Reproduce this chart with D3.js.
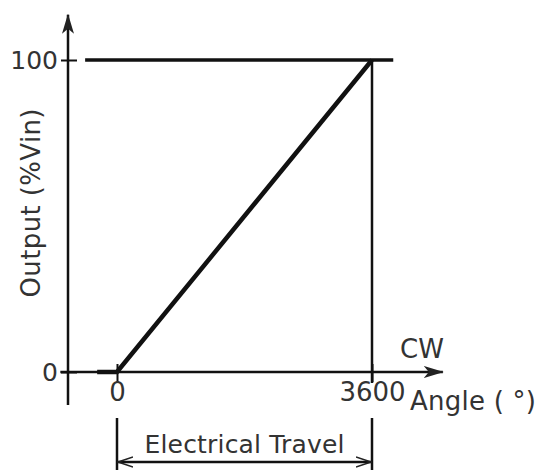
<!DOCTYPE html>
<html>
<head>
<meta charset="utf-8">
<script src="https://cdn.jsdelivr.net/npm/d3@7"></script>
<style>
  body { margin: 0; background: #fff; }
  text { font-family: "DejaVu Sans", Verdana, sans-serif; fill: #333; }
</style>
</head>
<body>
<script>
const w = 539;
const h = 470;

// output curve: angle (deg) vs output (%Vin)
const angle = [-280, 0, 3600];
const output = [0, 0, 100];
const xTicks = [0, 3600];
const yTicks = [0, 100];
const topLine = [-450, 3900];   // 100% reference line extent

let x = d3.scaleLinear().domain([0, 3600]).range([117, 372]);
let y = d3.scaleLinear().domain([0, 100]).range([372, 60]);

let svg = d3.select("body")
            .append("svg")
                .attr("width", w)
                .attr("height", h);

// arrow markers
let defs = svg.append("defs");
defs.append("marker")
    .attr("id", "head")
    .attr("viewBox", "0 0 20 12")
    .attr("refX", 19).attr("refY", 6)
    .attr("markerWidth", 20).attr("markerHeight", 12)
    .attr("markerUnits", "userSpaceOnUse")
    .attr("orient", "auto")
    .append("path")
        .attr("d", "M0,0 L20,6 L0,12 L5,6 Z")
        .attr("fill", "#222");
defs.append("marker")
    .attr("id", "open")
    .attr("viewBox", "0 0 16 12")
    .attr("refX", 15).attr("refY", 6)
    .attr("markerWidth", 16).attr("markerHeight", 12)
    .attr("markerUnits", "userSpaceOnUse")
    .attr("orient", "auto-start-reverse")
    .append("path")
        .attr("d", "M0,1 L15,6 L0,11")
        .attr("fill", "none")
        .attr("stroke", "#222")
        .attr("stroke-width", 1.5);

// axes lines
svg.append("line")
    .attr("x1", 68).attr("x2", 68)
    .attr("y1", y(-10.6)).attr("y2", y(114.5))
    .attr("stroke", "#111").attr("stroke-width", 2.5)
    .attr("marker-end", "url(#head)");
svg.append("line")
    .attr("x1", x(-800)).attr("x2", x(4600))
    .attr("y1", y(0)).attr("y2", y(0))
    .attr("stroke", "#111").attr("stroke-width", 2.5)
    .attr("marker-end", "url(#head)");

// y ticks via d3 axis
let yAxis = svg.append("g")
    .attr("transform", "translate(68,0)")
    .call(d3.axisLeft(y).tickValues(yTicks).tickSize(7).tickPadding(2));
yAxis.select(".domain").remove();
yAxis.selectAll(".tick line")
    .attr("x1", -7).attr("x2", 9)
    .attr("stroke", "#111").attr("stroke-width", 2);
yAxis.selectAll(".tick text")
    .attr("x", -10)
    .style("font-size", "25px")
    .style("font-family", "DejaVu Sans, Verdana, sans-serif")
    .attr("fill", "#333");

// x ticks
let xAxis = svg.append("g")
    .attr("transform", "translate(0," + y(0) + ")")
    .call(d3.axisBottom(x).tickValues(xTicks).tickFormat(d3.format("d")).tickSize(8).tickPadding(2));
xAxis.select(".domain").remove();
xAxis.selectAll(".tick line")
    .attr("y1", -8).attr("y2", 10)
    .attr("stroke", "#111").attr("stroke-width", 2);
xAxis.selectAll(".tick text")
    .attr("y", 11)
    .style("font-size", "26px")
    .style("font-family", "DejaVu Sans, Verdana, sans-serif")
    .attr("fill", "#333");

// 100% reference line
svg.append("line")
    .attr("x1", x(topLine[0])).attr("x2", x(topLine[1]))
    .attr("y1", y(100)).attr("y2", y(100))
    .attr("stroke", "#111").attr("stroke-width", 3.5);

// vertical line at full travel
svg.append("line")
    .attr("x1", x(3600)).attr("x2", x(3600))
    .attr("y1", y(100)).attr("y2", y(0) + 11)
    .attr("stroke", "#111").attr("stroke-width", 2.5);

// output curve
let line = d3.line()
    .x((d, i) => x(angle[i]))
    .y((d, i) => y(output[i]));
svg.append("path")
    .datum(angle)
    .attr("d", line)
    .attr("fill", "none")
    .attr("stroke", "#111")
    .attr("stroke-width", 4.5);

// labels
svg.append("text")
    .attr("transform", "translate(40,203) rotate(-90)")
    .attr("text-anchor", "middle")
    .style("font-size", "26px")
    .attr("textLength", 189)
    .text("Output (%Vin)");

svg.append("text")
    .attr("x", 422).attr("y", 358)
    .attr("text-anchor", "middle")
    .style("font-size", "26px")
    .text("CW");

svg.append("text")
    .attr("x", 410).attr("y", 410)
    .style("font-size", "26px")
    .attr("textLength", 126)
    .text("Angle ( °)");

// electrical travel bracket
svg.selectAll(".ext")
    .data(xTicks)
    .enter()
    .append("line")
        .attr("x1", (d) => x(d)).attr("x2", (d) => x(d))
        .attr("y1", 418).attr("y2", h)
        .attr("stroke", "#111").attr("stroke-width", 2.5);
svg.append("line")
    .attr("x1", x(0) + 1).attr("x2", x(3600) - 1)
    .attr("y1", 462).attr("y2", 462)
    .attr("stroke", "#111").attr("stroke-width", 2.5)
    .attr("marker-start", "url(#open)")
    .attr("marker-end", "url(#open)");
svg.append("text")
    .attr("x", (x(0) + x(3600)) / 2).attr("y", 453)
    .attr("text-anchor", "middle")
    .style("font-size", "25px")
    .attr("textLength", 200)
    .text("Electrical Travel");
</script>
</body>
</html>
